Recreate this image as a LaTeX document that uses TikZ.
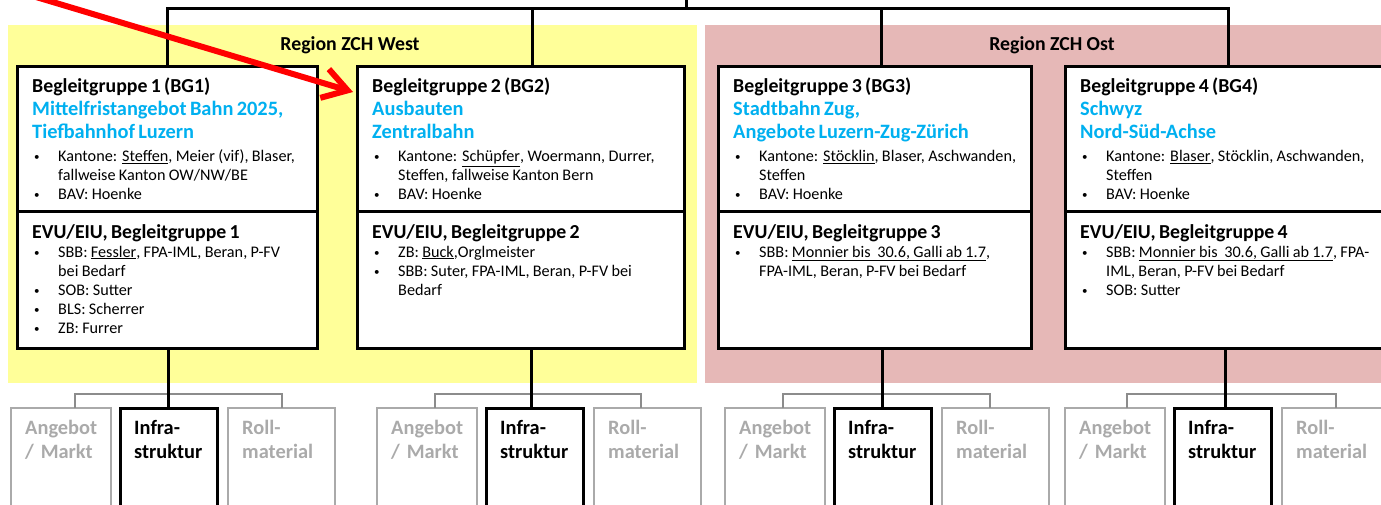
\documentclass[tikz,border=0pt]{standalone}
\usepackage{fontspec}
\setmainfont{Carlito}
\usetikzlibrary{positioning,arrows.meta}

\definecolor{westyellow}{RGB}{255,255,153}
\definecolor{ostpink}{RGB}{230,184,183}
\definecolor{topicblue}{RGB}{0,176,240}
\definecolor{dimgray}{RGB}{170,170,170}
\definecolor{linegray}{RGB}{140,140,140}

\newcommand{\titlef}{\fontsize{19.8}{23}\selectfont\bfseries}
\newcommand{\bluef}{\leavevmode\color{topicblue}\fontsize{20.4}{23}\selectfont\bfseries}
\newcommand{\itemf}{\fontsize{16.2}{19}\selectfont}
\newcommand{\bul}{\makebox[26pt][l]{\hspace{2pt}\raisebox{1pt}{\fontsize{11}{11}\selectfont\textbullet}}}
\newcommand{\ind}{\hspace*{26pt}}

\begin{document}
\begin{tikzpicture}[x=1pt,y=1pt,
  region/.style={anchor=north west,inner sep=0,minimum height=358},
  regionlabel/.style={font=\fontsize{19.8}{22}\selectfont\bfseries},
  grpbox/.style={draw,fill=white,line width=3pt,anchor=north west,inner sep=0,outer sep=0,minimum height=145},
  evubox/.style={grpbox,minimum height=136},
  boxtext/.style={anchor=base west,align=left,inner sep=0,text width=330},
  treeline/.style={line width=3pt},
  dimbox/.style={draw=dimgray,fill=white,line width=2pt,inner sep=0,outer sep=0,minimum width=100,minimum height=110},
  infrabox/.style={draw,fill=white,line width=3pt,inner sep=0,outer sep=0,minimum width=97,minimum height=110},
  rollbox/.style={dimbox,minimum width=107},
  smalltext/.style={anchor=base west,align=left,inner sep=0,text width=85,font=\fontsize{20.4}{24}\selectfont\bfseries},
  bracket/.style={draw=linegray,line width=2pt}]
\useasboundingbox (0,0) rectangle (1381,-505);

% regions
\node[region,fill=westyellow,minimum width=689] (west) at (8,-25) {};
\node[region,fill=ostpink,minimum width=690] (ost) at (705,-25) {};
\node[regionlabel] (westlabel) at (350,-45) {Region ZCH West};
\node[regionlabel] (ostlabel) at (1052,-45) {Region ZCH Ost};

% Begleitgruppen
\node[grpbox,minimum width=300] (bg1) at (17,-67) {};
\node[grpbox,minimum width=327] (bg2) at (357,-67) {};
\node[grpbox,minimum width=313] (bg3) at (718,-67) {};
\node[grpbox,minimum width=330] (bg4) at (1065,-67) {};
\node[evubox,minimum width=300] (evu1) at (bg1.south west) {};
\node[evubox,minimum width=327] (evu2) at (bg2.south west) {};
\node[evubox,minimum width=313] (evu3) at (bg3.south west) {};
\node[evubox,minimum width=330] (evu4) at (bg4.south west) {};

% tree above
\coordinate (root) at (686,0);
\coordinate (hub) at (686,-9);
\coordinate (bg2top) at ([xshift=12pt]bg2.north);
\coordinate (bg3top) at ([xshift=7pt]bg3.north);
\coordinate (bg4top) at ([xshift=-2pt]bg4.north);
\draw[treeline] (root) -- (hub);
\draw[treeline] (bg1.north) |- (hub) -| (bg4top);
\draw[treeline] (bg2top) -- (bg2top |- hub);
\draw[treeline] (bg3top) -- (bg3top |- hub);

% texts
\node[boxtext] (bg1text) at ([shift={(15,-26)}]bg1.north west) {%
{\titlef Begleitgruppe 1 (BG1)\par}
{\bluef Mittelfristangebot Bahn 2025,\\Tiefbahnhof Luzern\par}
{\itemf\vspace{4pt}\bul Kantone: \underline{Steffen}, Meier (vif), Blaser,\\\ind fallweise Kanton OW/NW/BE\par
\bul BAV: Hoenke\par}};
\node[boxtext] (bg2text) at ([shift={(15,-26)}]bg2.north west) {%
{\titlef Begleitgruppe 2 (BG2)\par}
{\bluef Ausbauten\\Zentralbahn\par}
{\itemf\vspace{4pt}\bul Kantone: \underline{Schüpfer}, Woermann, Durrer,\\\ind Steffen, fallweise Kanton Bern\par
\bul BAV: Hoenke\par}};
\node[boxtext] (bg3text) at ([shift={(15,-26)}]bg3.north west) {%
{\titlef Begleitgruppe 3 (BG3)\par}
{\bluef Stadtbahn Zug,\\Angebote Luzern-Zug-Zürich\par}
{\itemf\vspace{4pt}\bul Kantone: \underline{Stöcklin}, Blaser, Aschwanden,\\\ind Steffen\par
\bul BAV: Hoenke\par}};
\node[boxtext] (bg4text) at ([shift={(15,-26)}]bg4.north west) {%
{\titlef Begleitgruppe 4 (BG4)\par}
{\bluef Schwyz\\Nord-Süd-Achse\par}
{\itemf\vspace{4pt}\bul Kantone: \underline{Blaser}, Stöcklin, Aschwanden,\\\ind Steffen\par
\bul BAV: Hoenke\par}};

\node[boxtext] (evu1text) at ([shift={(15,-26)}]evu1.north west) {%
{\titlef EVU/EIU, Begleitgruppe 1\par}
{\itemf\bul SBB: \underline{Fessler}, FPA-IML, Beran, P-FV\\\ind bei Bedarf\par
\bul SOB: Sutter\par
\bul BLS: Scherrer\par
\bul ZB: Furrer\par}};
\node[boxtext] (evu2text) at ([shift={(15,-26)}]evu2.north west) {%
{\titlef EVU/EIU, Begleitgruppe 2\par}
{\itemf\bul ZB: \underline{Buck},Orglmeister\par
\bul SBB: Suter, FPA-IML, Beran, P-FV bei\\\ind Bedarf\par}};
\node[boxtext] (evu3text) at ([shift={(15,-26)}]evu3.north west) {%
{\titlef EVU/EIU, Begleitgruppe 3\par}
{\itemf\bul SBB: \underline{Monnier bis\ \ 30.6, Galli ab 1.7},\\\ind FPA-IML, Beran, P-FV bei Bedarf\par}};
\node[boxtext] (evu4text) at ([shift={(15,-26)}]evu4.north west) {%
{\titlef EVU/EIU, Begleitgruppe 4\par}
{\itemf\bul SBB: \underline{Monnier bis\ \ 30.6, Galli ab 1.7}, FPA-\\\ind IML, Beran, P-FV bei Bedarf\par
\bul SOB: Sutter\par}};

% Fachbereiche unten
\node[dimbox,anchor=north west] (ang1) at (11,-408) {};
\node[infrabox,right=9pt of ang1] (infra1) {};
\node[rollbox,right=11pt of infra1] (roll1) {};
\node[dimbox,anchor=north west] (ang2) at (377,-408) {};
\node[infrabox,right=9pt of ang2] (infra2) {};
\node[rollbox,right=11pt of infra2] (roll2) {};
\node[dimbox,anchor=north west] (ang3) at (725,-408) {};
\node[infrabox,right=9pt of ang3] (infra3) {};
\node[rollbox,right=11pt of infra3] (roll3) {};
\node[dimbox,anchor=north west] (ang4) at (1065,-408) {};
\node[infrabox,right=9pt of ang4] (infra4) {};
\node[rollbox,right=11pt of infra4] (roll4) {};

\draw[bracket] ([xshift=14pt]ang1.north) |- ([yshift=14pt]infra1.north) -| (roll1.north);
\draw[bracket] ([xshift=8pt]ang2.north) |- ([yshift=14pt]infra2.north) -| ([xshift=-7pt]roll2.north);
\draw[bracket] ([xshift=8pt]ang3.north) |- ([yshift=14pt]infra3.north) -| ([xshift=-6pt]roll3.north);
\draw[bracket] ([xshift=12pt]ang4.north) |- ([yshift=14pt]infra4.north) -| (roll4.north);
\draw[treeline] (infra1.north) -- (infra1.north |- evu1.south);
\draw[treeline] ([xshift=-3pt]infra2.north) -- ([xshift=-3pt]infra2.north |- evu2.south);
\draw[treeline] (infra3.north) -- (infra3.north |- evu3.south);
\draw[treeline] ([xshift=3pt]infra4.north) -- ([xshift=3pt]infra4.north |- evu4.south);

\node[smalltext,text=dimgray] (ang1text) at ([shift={(14,-26)}]ang1.north west) {Angebot\\/ Markt};
\node[smalltext] (infra1text) at ([shift={(14,-26)}]infra1.north west) {Infra-\\struktur};
\node[smalltext,text=dimgray] (roll1text) at ([shift={(14,-26)}]roll1.north west) {Roll-\\material};
\node[smalltext,text=dimgray] (ang2text) at ([shift={(14,-26)}]ang2.north west) {Angebot\\/ Markt};
\node[smalltext] (infra2text) at ([shift={(14,-26)}]infra2.north west) {Infra-\\struktur};
\node[smalltext,text=dimgray] (roll2text) at ([shift={(14,-26)}]roll2.north west) {Roll-\\material};
\node[smalltext,text=dimgray] (ang3text) at ([shift={(14,-26)}]ang3.north west) {Angebot\\/ Markt};
\node[smalltext] (infra3text) at ([shift={(14,-26)}]infra3.north west) {Infra-\\struktur};
\node[smalltext,text=dimgray] (roll3text) at ([shift={(14,-26)}]roll3.north west) {Roll-\\material};
\node[smalltext,text=dimgray] (ang4text) at ([shift={(14,-26)}]ang4.north west) {Angebot\\/ Markt};
\node[smalltext] (infra4text) at ([shift={(14,-26)}]infra4.north west) {Infra-\\struktur};
\node[smalltext,text=dimgray] (roll4text) at ([shift={(14,-26)}]roll4.north west) {Roll-\\material};

% Hinweis-Pfeil
\coordinate (arrowstart) at (26,6);
\coordinate (arrowtip) at ([shift={(-4,-25)}]bg2.north west);
\draw[red,line width=6pt,-{Straight Barb[length=24pt,width=30pt]}] (arrowstart) -- (arrowtip);
\end{tikzpicture}
\end{document}
